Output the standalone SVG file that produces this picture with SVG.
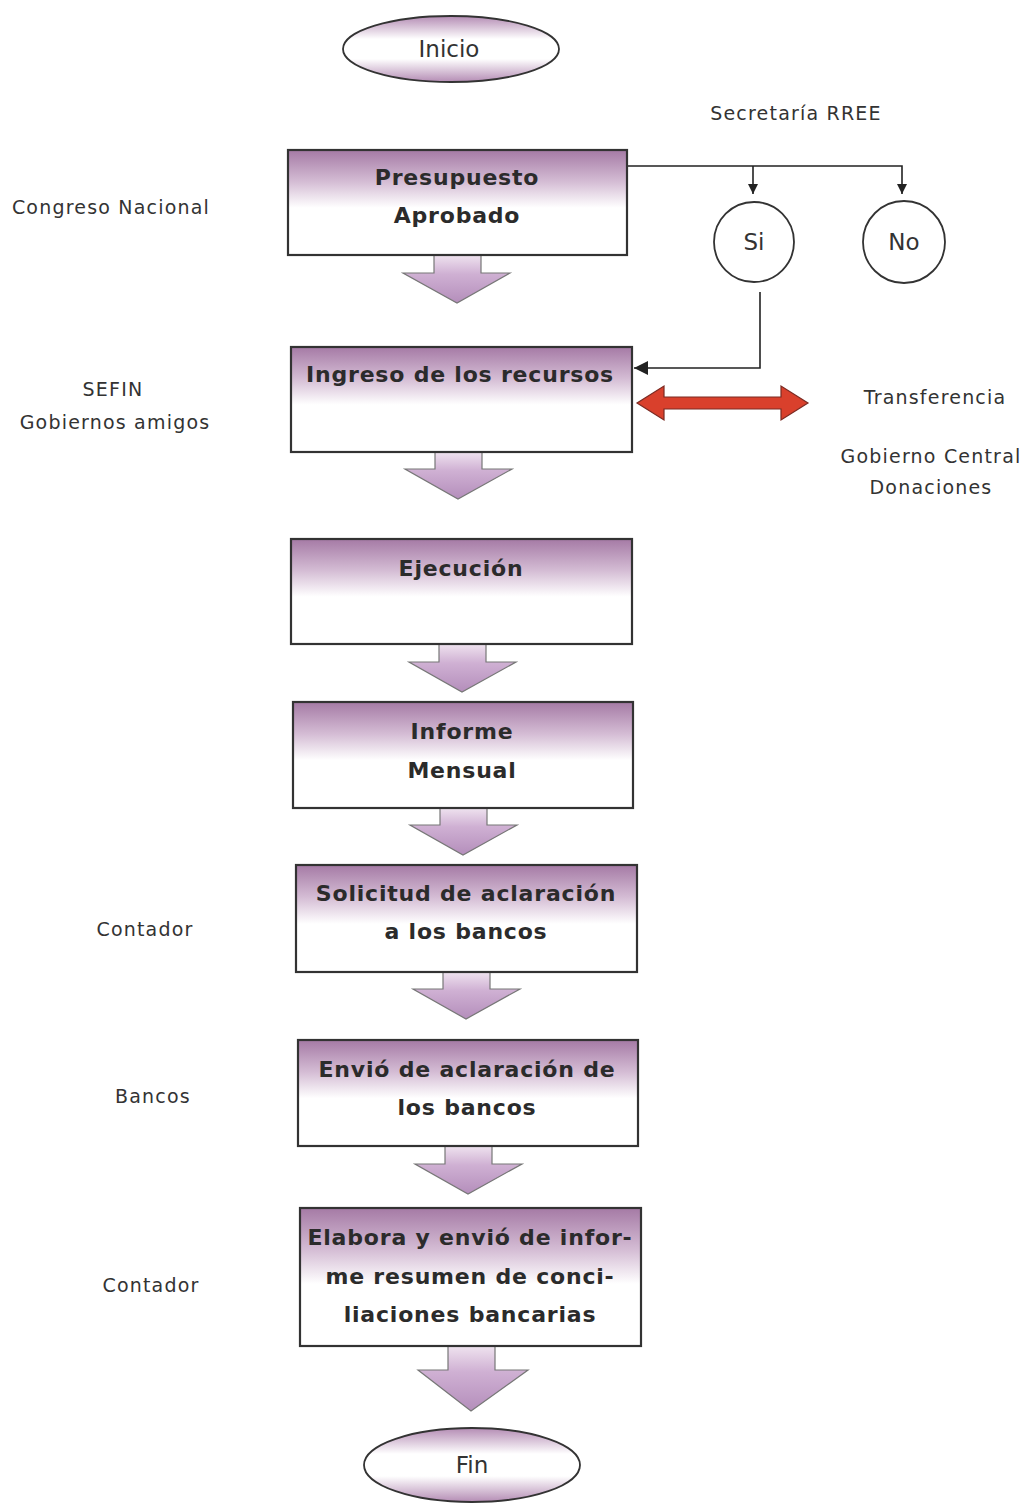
<svg xmlns="http://www.w3.org/2000/svg" width="1026" height="1511" viewBox="0 0 1026 1511">
<defs>
<linearGradient id="gBox" x1="0" y1="0" x2="0" y2="1">
<stop offset="0" stop-color="#a57aa5"/>
<stop offset="0.3" stop-color="#d4bcd4"/>
<stop offset="0.55" stop-color="#ffffff"/>
<stop offset="1" stop-color="#ffffff"/>
</linearGradient>
<linearGradient id="gArr" x1="0" y1="0" x2="0" y2="1">
<stop offset="0" stop-color="#efe3ef"/>
<stop offset="0.4" stop-color="#cfb0d3"/>
<stop offset="1" stop-color="#b48ebb"/>
</linearGradient>
<linearGradient id="gEll" x1="0" y1="0" x2="0" y2="1">
<stop offset="0" stop-color="#b48cb4"/>
<stop offset="0.35" stop-color="#ffffff"/>
<stop offset="0.65" stop-color="#ffffff"/>
<stop offset="1" stop-color="#b48cb4"/>
</linearGradient>
<marker id="ah" viewBox="0 0 10 10" refX="10" refY="5" markerWidth="10" markerHeight="10" markerUnits="userSpaceOnUse" orient="auto">
<path d="M0,0 L10,5 L0,10 Z" fill="#222"/>
</marker>
<marker id="ahb" viewBox="0 0 10 10" refX="10" refY="5" markerWidth="14" markerHeight="14" markerUnits="userSpaceOnUse" orient="auto">
<path d="M0,0 L10,5 L0,10 Z" fill="#222"/>
</marker>
</defs>
<style>
.box{fill:url(#gBox);stroke:#333;stroke-width:2.2}
.arr{fill:url(#gArr);stroke:#777;stroke-width:1.2}
.ell{fill:url(#gEll);stroke:#333;stroke-width:1.8}
.circ{fill:#fff;stroke:#333;stroke-width:1.8}
.bt{font-family:"DejaVu Sans",sans-serif;font-weight:bold;font-size:22px;letter-spacing:0.8px;fill:#2b2b2b;text-anchor:middle}
.lt{font-family:"DejaVu Sans",sans-serif;font-size:19px;letter-spacing:1.2px;fill:#333;text-anchor:middle}
.et{font-family:"DejaVu Sans",sans-serif;font-size:23px;fill:#333;text-anchor:middle}
.ln{fill:none;stroke:#222;stroke-width:1.6}
</style>

<g id="labels">
<text class="lt" x="796" y="120">Secretaría RREE</text>
<text class="lt" x="111" y="214">Congreso Nacional</text>
<text class="lt" x="113" y="396">SEFIN</text>
<text class="lt" x="115" y="429">Gobiernos amigos</text>
<text class="lt" x="935" y="404">Transferencia</text>
<text class="lt" x="931" y="463">Gobierno Central</text>
<text class="lt" x="931" y="494">Donaciones</text>
<text class="lt" x="145" y="936">Contador</text>
<text class="lt" x="153" y="1103">Bancos</text>
<text class="lt" x="151" y="1292">Contador</text>
</g>

<g id="connectors">
<polyline class="ln" points="627,166 902,166 902,194" marker-end="url(#ah)"/>
<line class="ln" x1="753" y1="166" x2="753" y2="194" marker-end="url(#ah)"/>
<polyline class="ln" points="760,292 760,368 634,368" marker-end="url(#ahb)"/>
<path d="M637,403 L664,386 L664,397 L781,397 L781,386 L808,403 L781,420 L781,409 L664,409 L664,420 Z" fill="#d9402c" stroke="#7a2a22" stroke-width="1.2"/>
<path class="arr" d="M434,255 L481,255 L481,273 L510,273 L457,303 L403,273 L434,273 Z"/>
<path class="arr" d="M435,452 L482,452 L482,469 L512,469 L458,499 L405,469 L435,469 Z"/>
<path class="arr" d="M439,644 L486,644 L486,662 L516,662 L462,692 L409,662 L439,662 Z"/>
<path class="arr" d="M440,808 L487,808 L487,825 L517,825 L463,855 L410,825 L440,825 Z"/>
<path class="arr" d="M443,972 L490,972 L490,989 L520,989 L466,1019 L413,989 L443,989 Z"/>
<path class="arr" d="M445,1146 L492,1146 L492,1164 L522,1164 L468,1194 L415,1164 L445,1164 Z"/>
<path class="arr" d="M448,1346 L495,1346 L495,1370 L528,1370 L471,1411 L418,1370 L448,1370 Z"/>
</g>

<g id="inicio">
<ellipse class="ell" cx="451" cy="49" rx="108" ry="33"/>
<text class="et" x="449" y="57">Inicio</text>
</g>

<g id="presupuesto">
<rect class="box" x="288" y="150" width="339" height="105"/>
<text class="bt" x="457" y="185">Presupuesto</text>
<text class="bt" x="457" y="223">Aprobado</text>
</g>

<g id="si">
<circle class="circ" cx="754" cy="242" r="40"/>
<text class="et" x="754" y="250">Si</text>
</g>

<g id="no">
<circle class="circ" cx="904" cy="242" r="41"/>
<text class="et" x="904" y="250">No</text>
</g>

<g id="ingreso">
<rect class="box" x="291" y="347" width="341" height="105"/>
<text class="bt" x="460" y="382">Ingreso de los  recursos</text>
</g>

<g id="ejecucion">
<rect class="box" x="291" y="539" width="341" height="105"/>
<text class="bt" x="461" y="576">Ejecución</text>
</g>

<g id="informe">
<rect class="box" x="293" y="702" width="340" height="106"/>
<text class="bt" x="462" y="739">Informe</text>
<text class="bt" x="462" y="778">Mensual</text>
</g>

<g id="solicitud">
<rect class="box" x="296" y="865" width="341" height="107"/>
<text class="bt" x="466" y="901">Solicitud de aclaración</text>
<text class="bt" x="466" y="939">a los bancos</text>
</g>

<g id="envio">
<rect class="box" x="298" y="1040" width="340" height="106"/>
<text class="bt" x="467" y="1077">Envió de aclaración de</text>
<text class="bt" x="467" y="1115">los bancos</text>
</g>

<g id="elabora">
<rect class="box" x="300" y="1208" width="341" height="138"/>
<text class="bt" x="470" y="1245">Elabora y envió de infor-</text>
<text class="bt" x="470" y="1284">me resumen de conci-</text>
<text class="bt" x="470" y="1322">liaciones bancarias</text>
</g>

<g id="fin">
<ellipse class="ell" cx="472" cy="1465" rx="108" ry="37"/>
<text class="et" x="472" y="1473">Fin</text>
</g>
</svg>
